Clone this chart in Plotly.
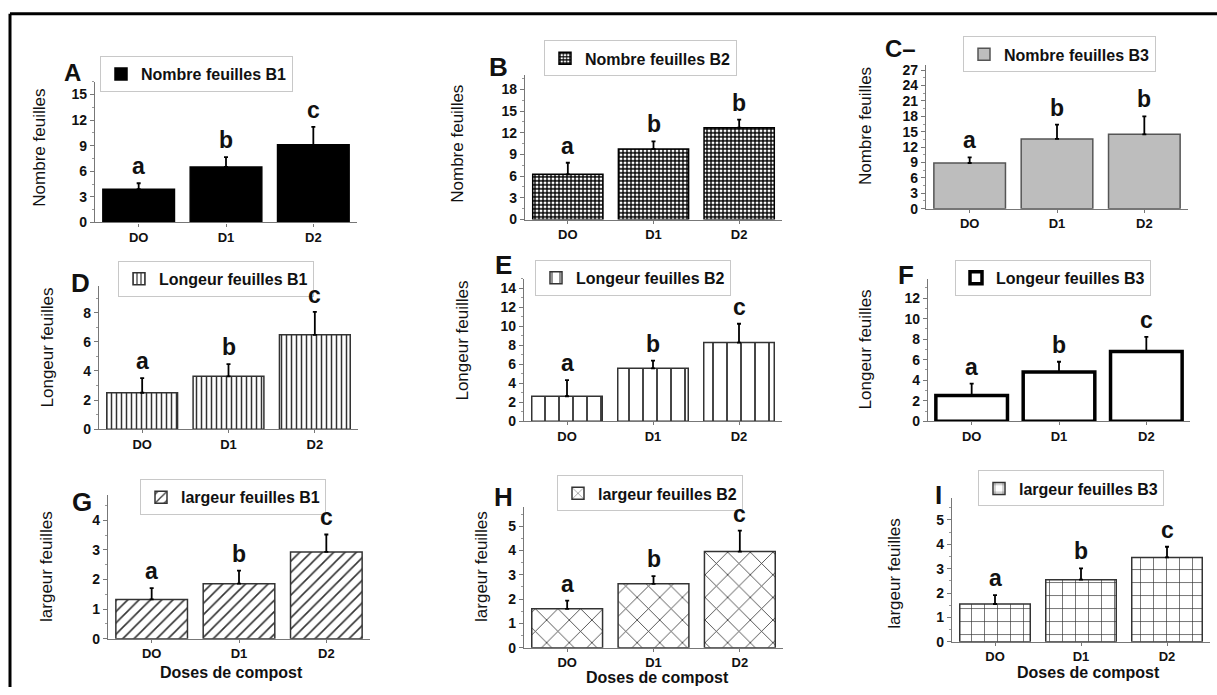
import plotly.graph_objects as go

W, H = 1217, 695

# ---------------- data ----------------
doses = ["DO", "D1", "D2"]

A_mean = [3.9, 6.5, 9.1];    A_err = [0.7, 1.15, 2.1];   A_let = ["a", "b", "c"]
B_mean = [6.25, 9.75, 12.7]; B_err = [1.6, 1.05, 1.1];   B_let = ["a", "b", "b"]
C_mean = [8.9, 13.6, 14.5];  C_err = [1.1, 2.8, 3.5];    C_let = ["a", "b", "b"]
D_mean = [2.5, 3.63, 6.48];  D_err = [1.0, 0.83, 1.58];  D_let = ["a", "b", "c"]
E_mean = [2.63, 5.57, 8.27]; E_err = [1.7, 0.8, 1.98];   E_let = ["a", "b", "c"]
F_mean = [2.5, 4.8, 6.8];    F_err = [1.17, 1.0, 1.42];  F_let = ["a", "b", "c"]
G_mean = [1.33, 1.86, 2.93]; G_err = [0.38, 0.44, 0.59]; G_let = ["a", "b", "c"]
H_mean = [1.6, 2.63, 3.96];  H_err = [0.34, 0.32, 0.86]; H_let = ["a", "b", "c"]
I_mean = [1.55, 2.55, 3.46]; I_err = [0.36, 0.46, 0.44]; I_let = ["a", "b", "c"]

series_names = ["Nombre feuilles B1", "Nombre feuilles B2", "Nombre feuilles B3",
                "Longeur feuilles B1", "Longeur feuilles B2", "Longeur feuilles B3",
                "largeur feuilles B1", "largeur feuilles B2", "largeur feuilles B3"]
panel_labels = ["A", "B", "C–", "D", "E", "F", "G", "H", "I"]
y_titles = ["Nombre feuilles"] * 3 + ["Longeur feuilles"] * 3 + ["largeur feuilles"] * 3
x_title = "Doses de compost"

means = [A_mean, B_mean, C_mean, D_mean, E_mean, F_mean, G_mean, H_mean, I_mean]
errs = [A_err, B_err, C_err, D_err, E_err, F_err, G_err, H_err, I_err]
letters = [A_let, B_let, C_let, D_let, E_let, F_let, G_let, H_let, I_let]

# ---------------- layout (pixels) ----------------
# plot areas: x0, x1, ytop, ybottom
areas = [(95, 357, 80, 223), (525, 782, 73, 220), (926, 1188, 63, 209),
         (99, 358, 288, 433), (524, 782, 280, 425), (928, 1190, 280, 425),
         (108, 370, 500, 646), (524, 783, 512, 655), (952, 1210, 503, 649)]
y_ranges = [16.5, 20, 28, 9.8, 15, 13.9, 4.85, 5.8, 5.9]
y_dticks = [3, 3, 3, 2, 2, 2, 1, 1, 1]
legend_pos = [(100, 54), (544, 38), (963, 34), (118, 262), (535, 261), (955, 261),
              (140, 484), (557, 480), (978, 475)]
label_pos = [(72, 71), (498, 65), (900, 46), (80, 285), (503, 266), (906, 276),
             (82, 507), (503, 502), (938, 500)]
label_sizes = [24, 26, 24, 26, 26, 26, 26, 26, 26]
ytitle_pos = [(40, 147), (458, 143), (865, 125), (47, 350), (463, 343), (865, 352),
              (47, 573), (482, 573), (895, 580)]
xtitle_pos = [(232, 680), (657, 685), (1088, 680)]

markers = [
    dict(color="black", line=dict(color="black", width=1.5)),
    dict(color="white", line=dict(color="black", width=1.5),
         pattern=dict(shape="+", size=4, solidity=0.55, fgcolor="black", bgcolor="white", fillmode="replace")),
    dict(color="#bdbdbd", line=dict(color="#555555", width=1.5)),
    dict(color="white", line=dict(color="#333333", width=1.5),
         pattern=dict(shape="|", size=5, solidity=0.3, fgcolor="#333333", bgcolor="white", fillmode="replace")),
    dict(color="white", line=dict(color="#333333", width=1.5),
         pattern=dict(shape="|", size=14, solidity=0.13, fgcolor="#333333", bgcolor="white", fillmode="replace")),
    dict(color="white", line=dict(color="black", width=3.5)),
    dict(color="white", line=dict(color="#333333", width=1.5),
         pattern=dict(shape="/", size=8, solidity=0.2, fgcolor="#333333", bgcolor="white", fillmode="replace")),
    dict(color="white", line=dict(color="#333333", width=1.5),
         pattern=dict(shape="x", size=16, solidity=0.1, fgcolor="#333333", bgcolor="white", fillmode="replace")),
    dict(color="white", line=dict(color="#333333", width=1.5),
         pattern=dict(shape="+", size=13, solidity=0.1, fgcolor="#333333", bgcolor="white", fillmode="replace")),
]

FONT = "Liberation Sans, Arial, sans-serif"


def px(x):
    return x / W


def py(y):
    return 1 - y / H


fig = go.Figure()
layout = dict(width=W, height=H, margin=dict(l=0, r=0, t=0, b=0),
              paper_bgcolor="white", plot_bgcolor="white", showlegend=True,
              font=dict(family=FONT, color="#111"), bargap=0.17)
annotations = []
shapes = []

for i in range(9):
    n = "" if i == 0 else str(i + 1)
    xa, ya = "x" + n, "y" + n
    lg = "legend" + n
    x0, x1, yt, yb = areas[i]
    fig.add_trace(go.Bar(
        x=doses, y=means[i], name="<b>" + series_names[i] + "</b>",
        xaxis=xa, yaxis=ya, legend=lg, width=0.82, marker=markers[i],
        error_y=dict(type="data", symmetric=False, array=errs[i], arrayminus=[0, 0, 0],
                     color="black", thickness=1.8, width=2),
        showlegend=True))
    layout["xaxis" + n] = dict(
        domain=[px(x0), px(x1)], anchor=ya, type="category", range=[-0.5, 2.5],
        showline=True, linecolor="#777", linewidth=1.2, ticks="outside", ticklen=3,
        tickcolor="#777", showgrid=False, zeroline=False,
        tickfont=dict(family=FONT, size=13, weight="bold", color="#111"))
    layout["yaxis" + n] = dict(
        domain=[py(yb), py(yt)], anchor=xa, range=[0, y_ranges[i]], dtick=y_dticks[i],
        tick0=0, showline=True, linecolor="#777", linewidth=1.2, ticks="outside",
        ticklen=4, tickcolor="#777", showgrid=False, zeroline=False,
        minor=dict(ticks="outside", ticklen=2, dtick=y_dticks[i] / 2, tickcolor="#999"),
        tickfont=dict(family=FONT, size=14, weight="bold", color="#111"))
    lx, ly = legend_pos[i]
    layout[lg] = dict(x=px(lx), y=py(ly), xanchor="left", yanchor="top",
                      bgcolor="white", bordercolor="#c8c8c8", borderwidth=1,
                      font=dict(family=FONT, size=16, color="#111"),
                      itemwidth=30, tracegroupgap=0)
    # significance letters
    for j in range(3):
        annotations.append(dict(x=doses[j], y=means[i][j] + errs[i][j], xref=xa, yref=ya,
                                text="<b>" + letters[i][j] + "</b>", showarrow=False,
                                yanchor="bottom", yshift=2,
                                font=dict(family=FONT, size=23, color="#111")))
    # panel label
    cx, cy = label_pos[i]
    annotations.append(dict(x=px(cx), y=py(cy), xref="paper", yref="paper",
                            text="<b>" + panel_labels[i] + "</b>", showarrow=False,
                            xanchor="center", yanchor="middle",
                            font=dict(family=FONT, size=label_sizes[i], color="#111")))
    # y title
    tx, ty = ytitle_pos[i]
    annotations.append(dict(x=px(tx), y=py(ty), xref="paper", yref="paper",
                            text=y_titles[i], showarrow=False, textangle=-90,
                            xanchor="center", yanchor="middle",
                            font=dict(family=FONT, size=17, color="#111")))

for tx, ty in xtitle_pos:
    annotations.append(dict(x=px(tx), y=py(ty), xref="paper", yref="paper",
                            text="<b>" + x_title + "</b>", showarrow=False,
                            xanchor="center", yanchor="middle",
                            font=dict(family=FONT, size=16, color="#111")))

# outer frame (top and left)
shapes.append(dict(type="line", xref="paper", yref="paper", x0=px(10), x1=1.0,
                   y0=py(11), y1=py(11), line=dict(color="black", width=3)))
shapes.append(dict(type="line", xref="paper", yref="paper", x0=px(10), x1=px(10),
                   y0=py(11), y1=0, line=dict(color="black", width=3)))

layout["annotations"] = annotations
layout["shapes"] = shapes
fig.update_layout(**layout)
fig.write_html("out.html", config={"displayModeBar": False},
               post_script="document.body.style.margin='0px';document.body.style.padding='0px';")
